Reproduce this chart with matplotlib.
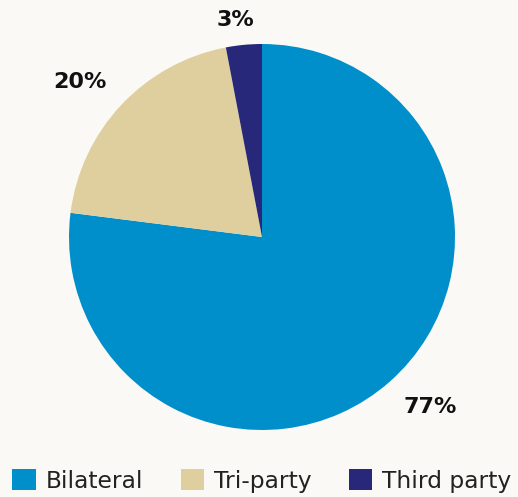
import matplotlib.pyplot as plt
import numpy as np

# share of each arrangement
labels = ['Bilateral', 'Tri-party', 'Third party']
shares = [77, 20, 3]
colors = ['#008fca', '#e0cf9e', '#27287a']

bg = '#faf9f5'
plt.rcParams['font.family'] = ['DejaVu Sans']

fig = plt.figure(figsize=(5.18, 4.97), dpi=100, facecolor=bg)
W, H = 518, 497
cx, cy, r = 262, 237, 193          # pie centre / radius in pixels
ax = fig.add_axes([(cx - r) / W, (H - cy - r) / H, 2 * r / W, 2 * r / H])
ax.set_facecolor(bg)

wedges, _ = ax.pie(shares, colors=colors, startangle=90, counterclock=False,
                   radius=1, wedgeprops=dict(linewidth=0))
ax.set_xlim(-1, 1)
ax.set_ylim(-1, 1)
ax.set_aspect('equal')

# % labels sit just outside each wedge, nudged a little (points)
label_dist = [1.24, 1.24, 1.13]
nudge = [(7, 7), (-5.5, -6.5), (-4, 0)]
for w, s, d, off in zip(wedges, shares, label_dist, nudge):
    mid = np.deg2rad((w.theta1 + w.theta2) / 2)
    ax.annotate(f'{s}%', (d * np.cos(mid), d * np.sin(mid)), xytext=off,
                textcoords='offset points', ha='center', va='center',
                fontsize=16, fontweight='bold', color='#111111', annotation_clip=False)

fig.legend(wedges, labels, loc='center', bbox_to_anchor=(cx / W, 16 / H),
           ncol=3, frameon=False, fontsize=16.8, handlelength=1.0, handleheight=1.0,
           handletextpad=0.43, columnspacing=1.6, labelcolor='#222222', borderpad=0.1)

fig.savefig('out.png', dpi=100, facecolor=bg)
